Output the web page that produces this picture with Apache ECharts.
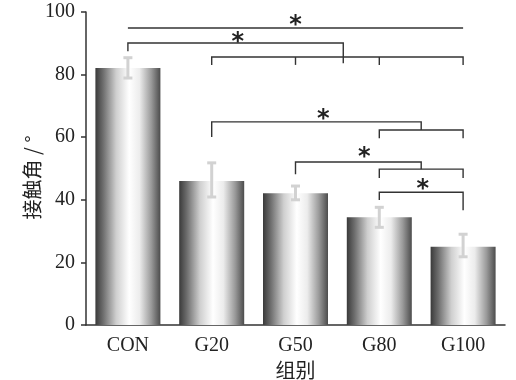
<!DOCTYPE html>
<html>
<head>
<meta charset="utf-8">
<script src="https://cdn.jsdelivr.net/npm/echarts@6/dist/echarts.min.js"></script>
<style>html,body{margin:0;padding:0;background:#fff;}#c{width:516px;height:380px;}</style>
</head>
<body>
<div id="c"></div>
<script>
const categories = ['CON', 'G20', 'G50', 'G80', 'G100'];
const means = [82.1, 46.0, 42.1, 34.4, 25.0];
const errLow = [78.9, 40.9, 40.0, 31.2, 21.8];
const errHigh = [85.4, 51.8, 44.4, 37.6, 29.0];
const yTicks = [0, 20, 40, 60, 80, 100];
// significance brackets: polylines in [category position, value]
const bracketLines = [
  [[0, 94.9], [4, 94.9]],
  [[0, 87.5], [0, 90.1], [2.57, 90.1], [2.57, 83.6]],
  [[1, 83.1], [1, 85.6], [4, 85.6], [4, 83.1]],
  [[2, 83.1], [2, 85.6]],
  [[3, 83.1], [3, 85.6]],
  [[1, 60.1], [1, 64.9], [3.5, 64.9], [3.5, 62.3]],
  [[3, 59.7], [3, 62.3], [4, 62.3], [4, 59.7]],
  [[2, 48.2], [2, 52.1], [3.5, 52.1], [3.5, 49.8]],
  [[3, 47.0], [3, 49.8], [4, 49.8], [4, 47.0]],
  [[3, 39.9], [3, 42.4], [4, 42.4], [4, 36.7]]
];
const stars = [[2, 97.4], [1.31, 92.0], [2.33, 67.4], [2.82, 55.3], [3.52, 45.0]];

const chart = echarts.init(document.getElementById('c'), null, {renderer: 'canvas'});
const serif = '"Liberation Serif", "DejaVu Serif", serif';
const barGrad = {
  type: 'linear', x: 0, y: 0, x2: 1, y2: 0,
  colorStops: [
    {offset: 0, color: '#3a3a3a'},
    {offset: 0.12, color: '#6e6e6e'},
    {offset: 0.32, color: '#cfcfcf'},
    {offset: 0.52, color: '#ffffff'},
    {offset: 0.68, color: '#ececec'},
    {offset: 0.86, color: '#9a9a9a'},
    {offset: 1, color: '#4c4c4c'}
  ]
};
chart.setOption({
  animation: false,
  backgroundColor: '#fff',
  grid: {left: 86, right: 11, top: 12, bottom: 55, outerBoundsMode: 'none', containLabel: false},
  xAxis: [{
    type: 'category',
    data: categories,
    name: '组别',
    nameLocation: 'middle',
    nameGap: 34,
    nameTextStyle: {fontFamily: '"Noto Sans CJK SC"', fontSize: 20, color: '#222'},
    axisLine: {lineStyle: {color: '#333', width: 1.5}},
    axisTick: {alignWithLabel: true, length: 6, lineStyle: {color: '#333', width: 1.5}},
    axisLabel: {fontFamily: serif, fontSize: 20, color: '#222', margin: 11}
  }, {
    type: 'value', min: -0.5, max: 4.5, show: false
  }],
  yAxis: {
    type: 'value', min: 0, max: 100, interval: 20,
    name: '接触角 / °',
    nameLocation: 'middle',
    nameGap: 44,
    nameMoveOverlap: false,
    nameRotate: 90,
    nameTextStyle: {fontFamily: '"Noto Sans CJK SC"', fontSize: 20, color: '#222', padding: [0, 18, 0, 0]},
    splitLine: {show: false},
    axisLine: {show: true, onZero: false, lineStyle: {color: '#333', width: 1.5}},
    axisTick: {show: true, length: 5, lineStyle: {color: '#333', width: 1.5}},
    axisLabel: {fontFamily: serif, fontSize: 20, color: '#222', margin: 11,
      formatter: v => yTicks.includes(v) ? String(v) : ''}
  },
  series: [{
    type: 'bar',
    data: means,
    barWidth: 65,
    itemStyle: {color: barGrad},
    z: 2
  }, {
    type: 'custom',
    data: categories.map((c, i) => [i, errLow[i], errHigh[i]]),
    z: 3,
    renderItem: function (params, api) {
      const lo = api.coord([api.value(0), api.value(1)]);
      const hi = api.coord([api.value(0), api.value(2)]);
      const hw = 4.5;
      const st = {stroke: '#d2d2d2', lineWidth: 3};
      return {type: 'group', children: [
        {type: 'line', shape: {x1: lo[0], y1: lo[1], x2: hi[0], y2: hi[1]}, style: st},
        {type: 'line', shape: {x1: lo[0] - hw, y1: lo[1], x2: lo[0] + hw, y2: lo[1]}, style: st},
        {type: 'line', shape: {x1: hi[0] - hw, y1: hi[1], x2: hi[0] + hw, y2: hi[1]}, style: st}
      ]};
    }
  }, {
    type: 'custom',
    xAxisIndex: 1,
    data: bracketLines.map((b, i) => [i]),
    z: 4,
    renderItem: function (params, api) {
      const pts = bracketLines[params.dataIndex].map(p => api.coord(p));
      return {type: 'polyline', shape: {points: pts}, style: {stroke: '#333', lineWidth: 1.4, fill: null}};
    }
  }, {
    type: 'custom',
    xAxisIndex: 1,
    data: stars,
    z: 5,
    renderItem: function (params, api) {
      const p = api.coord([api.value(0), api.value(1)]);
      return {type: 'text', x: p[0], y: p[1] + 6, style: {
        text: '*', fill: '#222', font: 'bold 24px "DejaVu Sans"', align: 'center', verticalAlign: 'middle'
      }};
    }
  }]
});
</script>
</body>
</html>
